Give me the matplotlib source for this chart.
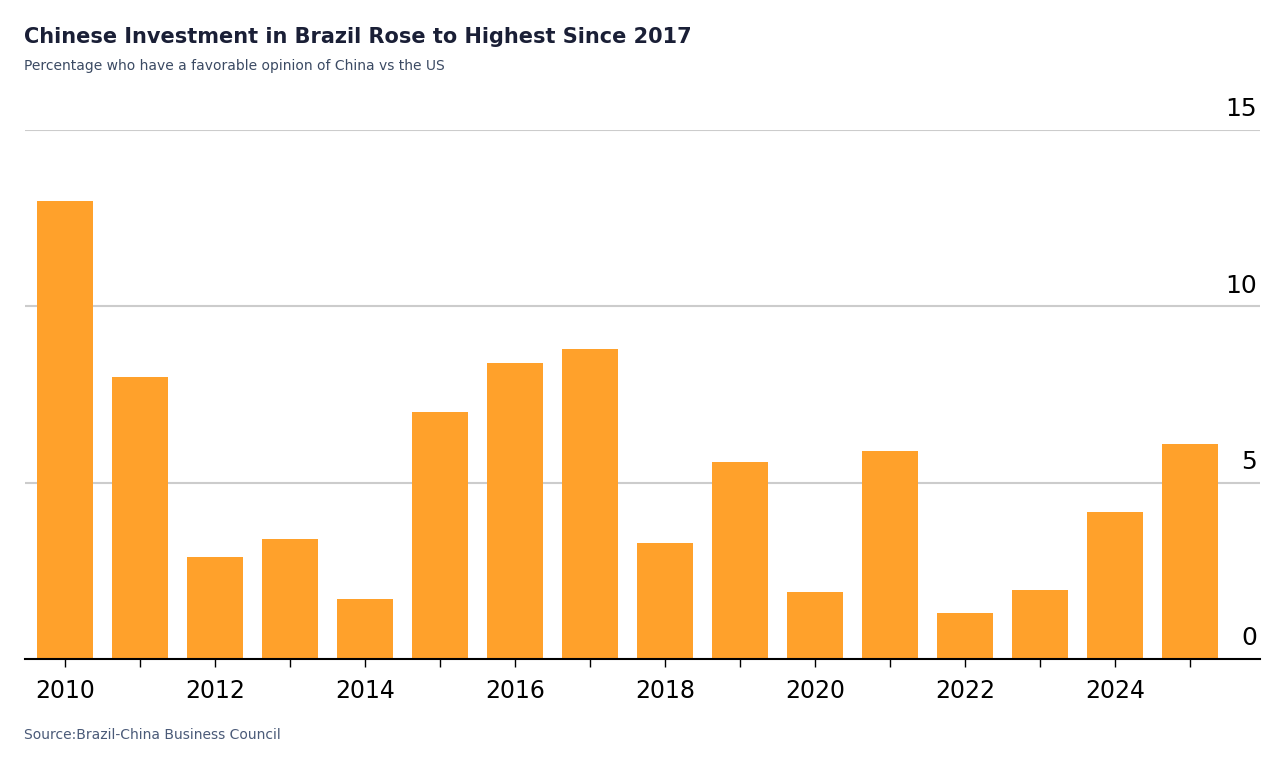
import matplotlib.pyplot as plt
import numpy as np


def plot_investment(output_image_path):
    # Values
    years = np.arange(2010, 2026)
    values = [13.0, 8.0, 2.9, 3.4, 1.7, 7.0, 8.4, 8.8, 3.3, 5.6, 1.9, 5.9, 1.3, 1.96, 4.17, 6.1]

    fig = plt.figure(figsize=(12.84, 7.7), dpi=100)
    ax = fig.add_axes([0.0195, 0.144, 0.9615, 0.687])

    # Gridlines behind the bars
    for v in [5, 10, 15]:
        ax.axhline(v, color='#cccccc', linewidth=1.5, zorder=0)
        ax.text(2025.9, v + 0.25, str(v), ha='right', va='bottom', fontsize=18, color='black')
    ax.text(2025.9, 0.25, '0', ha='right', va='bottom', fontsize=18, color='black')

    ax.bar(years, values, width=0.75, color='#ffa12b', zorder=2)

    ax.set_xlim(2009.47, 2025.93)
    ax.set_ylim(0, 15)
    ax.set_yticks([])
    ax.set_xticks(years)
    ax.set_xticklabels([str(y) if y % 2 == 0 else '' for y in years], fontsize=17)
    ax.tick_params(axis='x', length=6, width=1, pad=8)
    for side in ['top', 'right', 'left']:
        ax.spines[side].set_visible(False)
    ax.spines['bottom'].set_linewidth(1.5)

    fig.text(0.019, 0.952, 'Chinese Investment in Brazil Rose to Highest Since 2017',
             fontsize=15, fontweight='bold', color='#1a1f36', va='center')
    fig.text(0.019, 0.914, 'Percentage who have a favorable opinion of China vs the US',
             fontsize=10, color='#3b4a63', va='center')
    fig.text(0.019, 0.046, 'Source:Brazil-China Business Council',
             fontsize=10, color='#4a5a78', va='center')

    fig.savefig(output_image_path, dpi=100)


if __name__ == "__main__":
    plot_investment('out.png')
